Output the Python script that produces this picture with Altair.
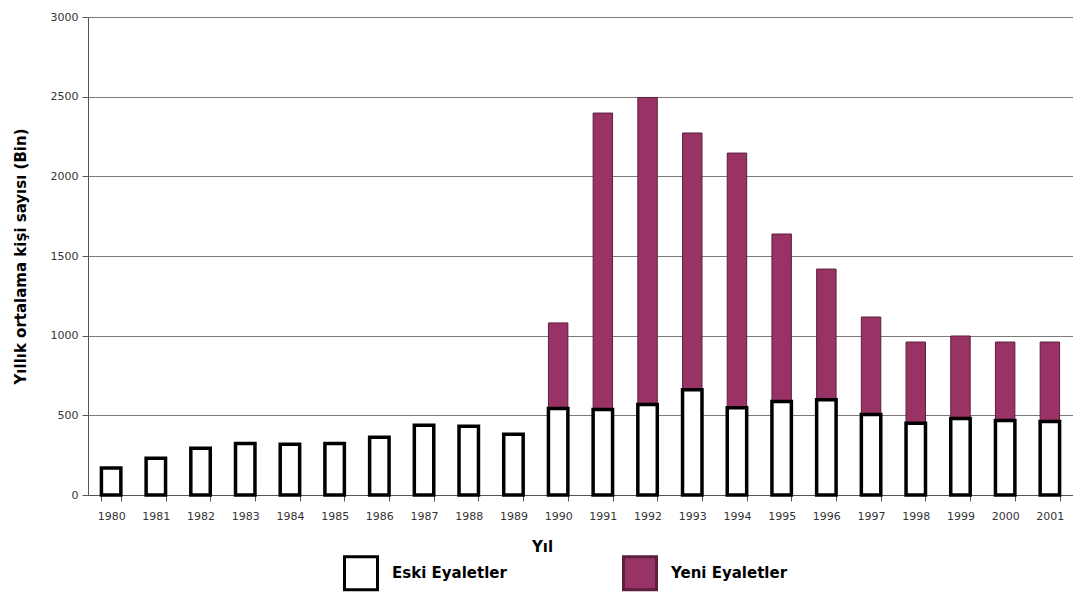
import altair as alt
import pandas as pd

years = ["1980", "1981", "1982", "1983", "1984", "1985", "1986", "1987", "1988",
         "1989", "1990", "1991", "1992", "1993", "1994", "1995", "1996", "1997",
         "1998", "1999", "2000", "2001"]
eski = [170, 230, 293, 324, 318, 324, 362, 437, 431, 381, 543, 537, 568, 660,
        548, 587, 598, 505, 450, 480, 468, 462]
yeni_years = ["1990", "1991", "1992", "1993", "1994", "1995", "1996", "1997",
              "1998", "1999", "2000", "2001"]
yeni = [537, 1860, 1927, 1612, 1598, 1051, 820, 612, 510, 518, 492, 498]
series_names = ["Eski Eyaletler", "Yeni Eyaletler"]

PURPLE = "#993366"
DARK_PURPLE = "#5c1f3e"

rows = []
for y, v in zip(yeni_years, yeni):
    rows.append({"year": y, "value": v, "series": series_names[1], "ord": 1})
for y, v in zip(years, eski):
    rows.append({"year": y, "value": v, "series": series_names[0], "ord": 0})
df = pd.DataFrame(rows)

is_eski = alt.datum.series == series_names[0]

legend = alt.Legend(
    title=None,
    orient="none",
    direction="horizontal",
    legendX=255,
    legendY=538,
    padding=0,
    symbolType="square",
    symbolSize=1089,
    symbolStrokeWidth=3,
    labelFont="DejaVu Sans",
    labelFontSize=15,
    labelFontWeight="bold",
    labelColor="black",
    labelOffset=13,
    columnPadding=110,
)

chart = alt.Chart(df).mark_bar().encode(
    x=alt.X(
        "year:O",
        sort=years,
        scale=alt.Scale(domain=years, paddingInner=0.565, paddingOuter=0.30),
        axis=alt.Axis(
            title="Yıl",
            titleX=454,
            titleAlign="center",
            labelAngle=0,
            tickBand="extent",
            tickSize=6,
            labelPadding=9,
            titlePadding=18,
            titleFontSize=15,
            titleFont="DejaVu Sans",
            titleFontWeight="bold",
            titleColor="black",
            labelFont="DejaVu Sans",
            labelFontSize=11,
            labelColor="#333333",
            domainColor="#555555",
            tickColor="#555555",
        ),
    ),
    y=alt.Y(
        "value:Q",
        stack="zero",
        scale=alt.Scale(domain=[0, 3000], nice=False),
        axis=alt.Axis(
            title="Yıllık ortalama kişi sayısı (Bin)",
            values=[0, 500, 1000, 1500, 2000, 2500, 3000],
            format="d",
            tickSize=6,
            labelPadding=4,
            titlePadding=22,
            titleFontSize=15,
            titleFont="DejaVu Sans",
            titleFontWeight="bold",
            titleColor="black",
            labelFont="DejaVu Sans",
            labelFontSize=11,
            labelColor="#333333",
            domainColor="#555555",
            tickColor="#555555",
            grid=True,
            gridColor="#7a7a7a",
            gridWidth=1,
            gridOpacity=1,
        ),
    ),
    fill=alt.Fill(
        "series:N",
        scale=alt.Scale(domain=series_names, range=["white", PURPLE]),
        legend=legend,
    ),
    stroke=alt.Stroke(
        "series:N",
        scale=alt.Scale(domain=series_names, range=["black", DARK_PURPLE]),
        legend=legend,
    ),
    strokeWidth=alt.condition(is_eski, alt.value(3.5), alt.value(1)),
    order=alt.Order("ord:Q", sort="ascending"),
).properties(
    width=985,
    height=478,
    background="white",
    padding={"left": 5, "top": 3, "right": 0, "bottom": 0},
).configure_view(
    stroke=None
)

chart.save("out.html", embed_options={"renderer": "svg", "actions": False})
